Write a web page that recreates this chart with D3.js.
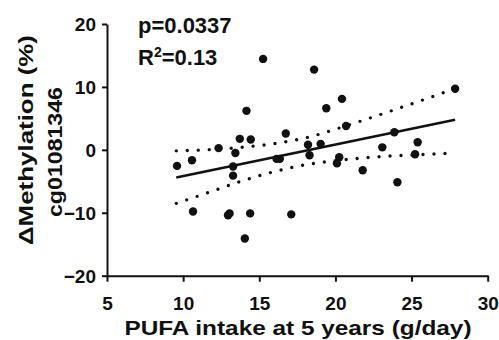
<!DOCTYPE html>
<html>
<head>
<meta charset="utf-8">
<script src="https://cdn.jsdelivr.net/npm/d3@7"></script>
<style>
body { margin: 0; background: #fff; }
text { font-family: "Liberation Sans", Arial, sans-serif; font-weight: bold; fill: #111; }
</style>
</head>
<body>
<div id="chart"></div>
<script>

// PUFA intake (g/day) and change in methylation (%)
var pufa = [15.25, 18.6, 27.86, 20.43, 19.4, 14.16, 20.7, 23.87, 16.74, 13.72,
	14.44, 25.4, 19.03, 18.2, 23.08, 12.33, 13.43, 25.23, 18.3, 20.25,
	16.13, 16.35, 10.58, 20.1, 9.6, 13.28, 21.79, 13.28, 24.07, 10.65,
	12.95, 13.05, 14.4, 17.1, 14.05];
var dMeth = [14.45, 12.75, 9.7, 8.1, 6.6, 6.2, 3.8, 2.8, 2.6, 1.75,
	1.65, 1.2, 0.95, 0.8, 0.4, 0.27, -0.5, -0.7, -0.85, -1.17,
	-1.43, -1.43, -1.65, -2.15, -2.55, -2.65, -3.25, -4.1, -5.15, -9.8,
	-10.4, -10.1, -10.1, -10.25, -14.1];

// fitted line and 95% band
var fitX = [9.55, 27.86];
var fitY = [-4.4, 4.78];
var bandX = [9.55, 11.7, 13.8, 16, 18.2, 20.3, 22.5, 24.7, 27.86];
var bandUpper = [-0.16, 0.03, 0.4, 1.0, 2.0, 3.5, 5.25, 7.05, 9.75];
var bandLower = [-8.5, -6.75, -5.0, -3.45, -2.3, -1.65, -1.15, -0.85, -0.53];

var xTicks = [5, 10, 15, 20, 25, 30];
var yTicks = [-20, -10, 0, 10, 20];

var svg = d3.select("#chart").append("svg")
	.attr("width", 499)
	.attr("height", 340);

var x = d3.scaleLinear().domain([5, 30]).range([107, 487.7]);
var y = d3.scaleLinear().domain([-20, 20]).range([275.7, 24]);

// axes
var xAxis = svg.append("g")
	.attr("transform", "translate(0," + y(-20) + ")")
	.call(d3.axisBottom(x).tickValues(xTicks).tickSize(6).tickSizeOuter(0).tickPadding(15));
var yAxis = svg.append("g")
	.attr("transform", "translate(" + x(5) + ",0)")
	.call(d3.axisLeft(y).tickValues(yTicks).tickSize(5).tickSizeOuter(0).tickPadding(6));

[xAxis, yAxis].forEach(function(a) {
	a.selectAll("path, line").attr("stroke", "#111").attr("stroke-width", 2);
	a.selectAll("text").style("font-size", "19px").attr("fill", "#111");
});
yAxis.selectAll("text").attr("dy", "0.36em");

// confidence band (dotted)
var band = d3.line()
	.x(function(d) { return x(d[0]); })
	.y(function(d) { return y(d[1]); })
	.curve(d3.curveMonotoneX);

[bandUpper, bandLower].forEach(function(vals) {
	svg.append("path")
		.datum(bandX.map(function(v, i) { return [v, vals[i]]; }))
		.attr("d", band)
		.attr("fill", "none")
		.attr("stroke", "#111")
		.attr("stroke-width", 3.4)
		.attr("stroke-linecap", "round")
		.attr("stroke-dasharray", "0,11");
});

// regression line
svg.append("path")
	.datum(fitX.map(function(v, i) { return [v, fitY[i]]; }))
	.attr("d", band)
	.attr("fill", "none")
	.attr("stroke", "#111")
	.attr("stroke-width", 2.7);

// points
svg.append("g").selectAll("circle")
	.data(pufa)
	.enter().append("circle")
	.attr("cx", function(d) { return x(d); })
	.attr("cy", function(d, i) { return y(dMeth[i]); })
	.attr("r", 4.2)
	.attr("fill", "#111");

// stats
svg.append("text")
	.attr("x", 138).attr("y", 33.3)
	.style("font-size", "22px")
	.text("p=0.0337");
var r2 = svg.append("text")
	.attr("x", 138).attr("y", 65)
	.style("font-size", "22px");
r2.append("tspan").text("R");
r2.append("tspan").attr("dy", -8).style("font-size", "14px").text("2");
r2.append("tspan").attr("dy", 8).text("=0.13");

// axis titles
svg.append("text")
	.attr("x", 298).attr("y", 335)
	.attr("text-anchor", "middle")
	.attr("textLength", 347)
	.attr("lengthAdjust", "spacingAndGlyphs")
	.style("font-size", "21px")
	.text("PUFA intake at 5 years (g/day)");

svg.append("text")
	.attr("transform", "translate(33,140) rotate(-90)")
	.attr("text-anchor", "middle")
	.attr("textLength", 210)
	.attr("lengthAdjust", "spacingAndGlyphs")
	.style("font-size", "21px")
	.text("\u0394Methylation (%)");

svg.append("text")
	.attr("transform", "translate(62,152) rotate(-90)")
	.attr("text-anchor", "middle")
	.attr("textLength", 130)
	.attr("lengthAdjust", "spacingAndGlyphs")
	.style("font-size", "21px")
	.text("cg01081346");

</script>
</body>
</html>
